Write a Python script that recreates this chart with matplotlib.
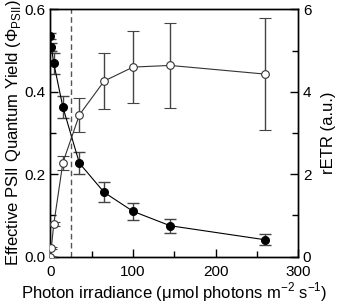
import matplotlib
matplotlib.use("Agg")
import matplotlib.pyplot as plt
from matplotlib.ticker import MultipleLocator

plt.rcParams['font.family'] = ['Liberation Sans', 'DejaVu Sans']
plt.rcParams['mathtext.fontset'] = 'custom'
plt.rcParams['mathtext.rm'] = 'Liberation Sans'

# photon irradiance (umol photons m-2 s-1)
irradiance = [0, 1, 4, 15, 35, 65, 100, 145, 260]
# effective PSII quantum yield
yield_psii = [0.535, 0.508, 0.469, 0.363, 0.227, 0.156, 0.110, 0.075, 0.041]
yield_err = [0.008, 0.010, 0.026, 0.026, 0.026, 0.024, 0.021, 0.017, 0.013]
# relative electron transport rate
retr = [0.0, 0.21, 0.79, 2.28, 3.44, 4.26, 4.60, 4.64, 4.43]
retr_err = [0.02, 0.03, 0.05, 0.17, 0.41, 0.68, 0.88, 1.04, 1.35]

ik = 25  # dashed marker line

fig = plt.figure(figsize=(3.4, 3.03), dpi=100)
ax = fig.add_axes([0.1485, 0.153, 0.728, 0.816])
ax2 = ax.twinx()

ax.axvline(ik, color='#555555', lw=1.0, ls=(0, (4, 2.5)), zorder=1)

ax.errorbar(irradiance, yield_psii, yerr=yield_err, fmt='o-', color='black',
            ecolor='#444444', elinewidth=1.0, capsize=4, capthick=1.0,
            ms=5.5, lw=0.8, mfc='black', mec='black', zorder=3)
ax2.errorbar(irradiance, retr, yerr=retr_err, fmt='o-', color='#333333',
             ecolor='#444444', elinewidth=1.0, capsize=4, capthick=1.0,
             ms=5.5, lw=0.8, mfc='white', mec='#333333', mew=0.8, zorder=3)

ax.set_xlim(0, 300)
ax2.set_ylim(0, 6)

ax.xaxis.set_major_locator(MultipleLocator(100))
ax.xaxis.set_minor_locator(MultipleLocator(50))
ax.set_yticks([0, 0.2, 0.4, 0.6])
ax.set_yticklabels(['0.0', '0.2', '0.4', '0.6'])
ax.yaxis.set_minor_locator(MultipleLocator(0.1))
ax.set_ylim(0, 0.6)
ax2.yaxis.set_major_locator(MultipleLocator(2))
ax2.yaxis.set_minor_locator(MultipleLocator(1))

for a in (ax, ax2):
    a.tick_params(which='major', direction='in', length=6, width=1.0, labelsize=11)
    a.tick_params(which='minor', direction='in', length=4, width=1.0)
    for s in a.spines.values():
        s.set_linewidth(1.0)
ax.tick_params(axis='x', pad=6)

ax.set_xlabel('Photon irradiance (μmol photons m$^{\\mathregular{-2}}$ s$^{\\mathregular{-1}}$)',
              fontsize=12, labelpad=1)
ax.set_ylabel('Effective PSII Quantum Yield (Φ$_{\\mathregular{PSII}}$)', fontsize=12, labelpad=1)
ax2.set_ylabel('rETR (a.u.)', fontsize=12, labelpad=7)

fig.savefig('out.png', dpi=100)
